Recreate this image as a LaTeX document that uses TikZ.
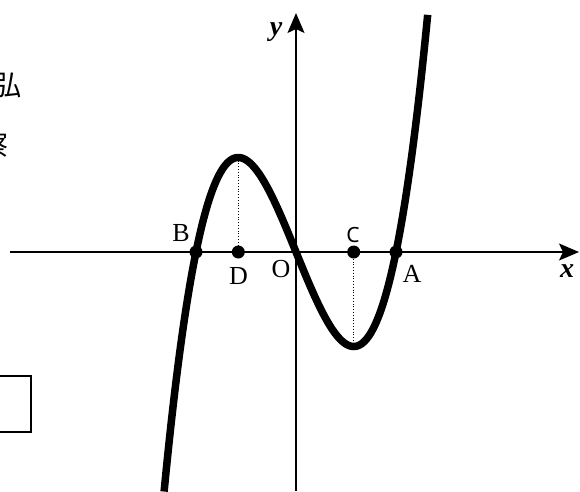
\documentclass[tikz,border=0pt]{standalone}
\usepackage{fontspec}
\setmainfont{Liberation Serif}
\newfontfamily\cjkfont{Noto Sans CJK JP}
\newfontfamily\labsans{Noto Sans}
\usetikzlibrary{arrows.meta}
\begin{document}
\begin{tikzpicture}[x=1pt,y=-1pt,
  axis/.style={line width=1.4pt,-{Stealth[length=20pt,width=17pt,inset=4pt]}},
  curve/.style={line width=7.5pt},
  guide/.style={line width=0.8pt,dotted},
  dot/.style={circle,fill=black,inner sep=0pt,minimum size=13pt},
  lab/.style={font=\fontsize{26}{26}\selectfont,inner sep=0pt},
  axlab/.style={font=\fontsize{28}{28}\selectfont\bfseries\itshape,inner sep=0pt}]
\useasboundingbox (0,0) rectangle (580,491);
\clip (0,0) rectangle (580,491);
% axes
\coordinate (xs) at (10,252);
\coordinate (xe) at (579,252);
\coordinate (ys) at (296,491);
\coordinate (ye) at (296,13);
\draw[axis] (xs) -- (xe);
\draw[axis] (ys) -- (ye);
% curve y = x^3 - x scaled
\draw[curve] plot[domain=-1.319:1.319,samples=200,smooth]
  ({296+100*\x},{252-245.5*(\x*\x*\x-\x)});
% extreme points
\coordinate (maxD) at (238.3,157.5);
\coordinate (minC) at (353.7,346.5);
% dots
\node[dot] (B) at (196,252) {};
\node[dot] (D) at (238.3,252) {};
\node[dot] (C) at (353.7,252) {};
\node[dot] (A) at (396,252) {};
\draw[guide] (D) -- (maxD);
\draw[guide] (C) -- (minC);
% labels
\node[lab] (lB) at (181,233.5) {B};
\node[lab] (lD) at (238.5,276) {D};
\node[lab] (lO) at (281,269.5) {O};
\node[lab,font=\fontsize{21}{21}\labsans] (lC) at (353,234.5) {C};
\node[lab] (lA) at (412,273.5) {A};
\node[axlab] (lx) at (567,271) {x};
\node[axlab] (ly) at (276,32) {y};
% cropped page fragments
\node[inner sep=0pt,font=\fontsize{28}{28}\cjkfont] (k1) at (8,85) {弘};
\node[inner sep=0pt,font=\fontsize{28}{28}\cjkfont] (k2) at (-5,145) {察};
\draw[line width=2pt] (-10,376) rectangle (31,432);
\end{tikzpicture}
\end{document}
